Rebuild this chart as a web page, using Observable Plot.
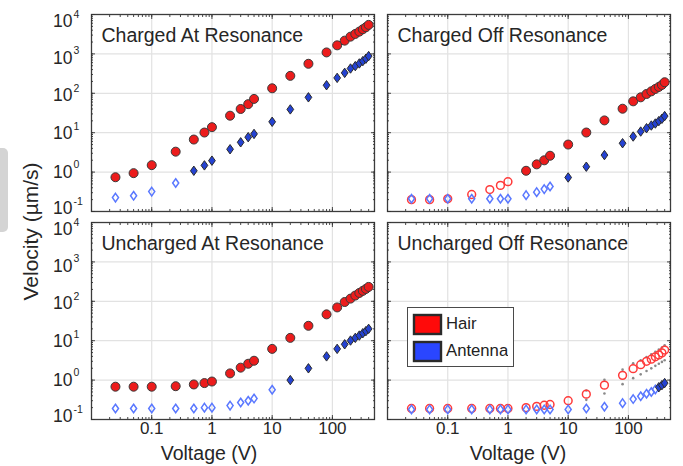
<!DOCTYPE html>
<html>
<head>
<meta charset="utf-8">
<script src="https://cdn.jsdelivr.net/npm/d3@7"></script>
<script src="https://cdn.jsdelivr.net/npm/@observablehq/plot@0.6"></script>
<style>
  body { margin: 0; background: #fff; font-family: "Liberation Sans", Arial, sans-serif; }
  #wrap { position: relative; width: 683px; height: 466px; overflow: hidden; }
  #wrap > svg { position: absolute; left: 0; top: 0; }
  #tab { position: absolute; left: 0; top: 148px; width: 8px; height: 84px; background: #d4d4d4; border-radius: 0 5px 5px 0; }
  #legend { position: absolute; left: 407px; top: 307px; width: 105px; height: 58px; border: 1.5px solid #4a4a4a; background: #fff; padding: 0; box-sizing: content-box; }
  #legend .lg-swatches { margin: 0 !important; padding: 6px 0 0 6px; }
  #legend .lg-swatch { padding-bottom: 7px !important; margin: 0 !important; color: #222; }
  #legend .lg-swatch svg { margin-right: 5px !important; }
  #legend .lg-swatch svg rect { stroke: #2a2a2a; stroke-width: 2.4px; }
</style>
</head>
<body>
<div id="wrap"><div id="tab"></div></div>
<script>
// ---- data ----
const voltage = [0.025, 0.05, 0.1, 0.25, 0.5, 0.75, 1, 2, 3, 4, 5, 10, 20, 40, 80, 120, 160, 200, 240, 280, 320, 360, 400];

const panelTitles    = ["Charged At Resonance", "Charged Off Resonance", "Uncharged At Resonance", "Uncharged Off Resonance"];
const panelCharge    = ["Charged", "Charged", "Uncharged", "Uncharged"];
const panelResonance = ["At Resonance", "Off Resonance", "At Resonance", "Off Resonance"];

const hairChargedAt      = [0.74, 0.94, 1.5, 3.3, 6.7, 10.1, 13.8, 27, 40, 53, 72, 134, 277, 561, 1090, 1650, 2170, 2740, 3210, 3680, 4220, 4750, 5450];
const antennaChargedAt   = [0.225, 0.25, 0.32, 0.53, 1.08, 1.48, 1.95, 3.8, 5.7, 7.7, 9.3, 18.9, 39, 79, 160, 246, 330, 426, 490, 572, 656, 753, 880];
const hairChargedOff     = [0.2, 0.2, 0.21, 0.27, 0.36, 0.46, 0.57, 1.08, 1.57, 1.99, 2.6, 5.0, 10.1, 20.5, 40.6, 62.5, 79, 96, 112, 129, 145, 163, 191];
const antennaChargedOff  = [0.21, 0.21, 0.21, 0.21, 0.21, 0.21, 0.21, 0.26, 0.31, 0.37, 0.43, 0.73, 1.37, 2.7, 5.4, 8.0, 10.7, 13, 15.2, 17.1, 19.7, 22.5, 26.4];
const hairUnchargedAt    = [0.68, 0.68, 0.68, 0.7, 0.775, 0.84, 0.92, 1.48, 2.07, 2.6, 3.1, 6.2, 11.8, 23.9, 46.6, 70, 96, 117, 140, 163, 184, 206, 232];
const antennaUnchargedAt = [0.19, 0.19, 0.19, 0.19, 0.19, 0.2, 0.2, 0.225, 0.27, 0.30, 0.34, 0.57, 1.0, 1.99, 4.0, 6.2, 8.1, 10.1, 11.8, 13.5, 15.5, 17.5, 20];
const hairUnchargedOff   = [0.19, 0.19, 0.19, 0.19, 0.19, 0.19, 0.19, 0.2, 0.215, 0.23, 0.24, 0.30, 0.44, 0.745, 1.32, 1.95, 2.46, 3.0, 3.4, 3.9, 4.35, 4.9, 5.8];
const antennaUnchargedOff= [0.18, 0.18, 0.18, 0.18, 0.18, 0.18, 0.18, 0.18, 0.18, 0.18, 0.18, 0.18, 0.19, 0.21, 0.26, 0.33, 0.39, 0.45, 0.50, 0.58, 0.66, 0.745, 0.84];

// voltage at which markers become filled (significant), per panel
const hairFilledFrom    = [0.025, 2, 0.025, Infinity];
const antennaFilledFrom = [0.5, 10, 20, 320];

// individual trials (small grey dots), Uncharged Off Resonance hair
const trialVoltage    = [20, 40, 80, 120, 160, 200, 240, 280, 320, 360, 400];
const trialUpperUOff  = [0.545, 1.02, 1.84, 2.66, 3.2, 3.86, 4.5, 5.2, 5.95, 6.7, 7.7];
const trialLowerUOff  = [0.315, 0.456, 0.79, 1.12, 1.4, 1.7, 1.99, 2.3, 2.6, 2.9, 3.2];

// axis ticks
const xTickValues = [0.1, 1, 10, 100];
const xTickLabels = ["0.1", "1", "10", "100"];
const yTickValues = [0.1, 1, 10, 100, 1000, 10000];
const yTickBase   = "10";
const yTickExps   = ["-1", "0", "1", "2", "3", "4"];
const yLabelNudge = [-4, -1, 0, 1, 3, 6];   // vertical nudge of each y tick label (px)

const legendLabels = ["Hair", "Antenna"];
const legendColors = ["#ff0a0a", "#2a46ff"];

// ---- build tables ----
const hairSeries = [hairChargedAt, hairChargedOff, hairUnchargedAt, hairUnchargedOff];
const antennaSeries = [antennaChargedAt, antennaChargedOff, antennaUnchargedAt, antennaUnchargedOff];
function toRows(series, filledFrom) {
  return series.flatMap((vals, p) => vals.map((velocity, i) => ({
    charge: panelCharge[p], resonance: panelResonance[p], v: voltage[i], velocity,
    filled: voltage[i] >= filledFrom[p]
  })));
}
const hair = toRows(hairSeries, hairFilledFrom);
const antenna = toRows(antennaSeries, antennaFilledFrom);
const trials = trialVoltage.flatMap((v, i) => [
  {charge: "Uncharged", resonance: "Off Resonance", v, velocity: trialUpperUOff[i]},
  {charge: "Uncharged", resonance: "Off Resonance", v, velocity: trialLowerUOff[i]}
]);
const titles = panelTitles.map((t, p) => ({title: t, charge: panelCharge[p], resonance: panelResonance[p]}));

const xDomain = [0.01, 500], yDomain = [0.1, 10000];
const xMinor = d3.scaleLog().domain(xDomain).ticks(40);
const yMinor = d3.scaleLog().domain(yDomain).ticks(40);

const diamond = {
  draw(ctx, size) {
    const r = Math.sqrt(size / Math.PI);
    const h = r * 1.15, w = r * 0.82;
    ctx.moveTo(0, -h); ctx.lineTo(w, 0); ctx.lineTo(0, h); ctx.lineTo(-w, 0); ctx.closePath();
  }
};

const red = "#ec1c1c", redOpen = "#ff3a3a";
const blue = "#2442d2", blueOpen = "#5a78ff";
const txt = "#262626";
const ch = {x: "v", y: "velocity", fx: "resonance", fy: "charge"};

function inward(anchor, ticks, size) {
  const o = {anchor, ticks, tickSize: -size, tickFormat: () => "", facetAnchor: null, label: null, stroke: "#333", strokeWidth: 0.9};
  return (anchor === "top" || anchor === "bottom") ? Plot.axisX(o) : Plot.axisY(o);
}

const yLabelMarks = yTickValues.flatMap((t, i) => [
  Plot.axisY({anchor: "left", ticks: [t], tickSize: 0, tickPadding: 19, fontSize: 17.5,
    tickFormat: () => yTickBase, label: null, fill: txt, dy: 1 + yLabelNudge[i]}),
  Plot.axisY({anchor: "left", ticks: [t], tickSize: 0, tickPadding: 18, fontSize: 10.5, textAnchor: "start",
    tickFormat: () => yTickExps[i], label: null, fill: txt, dy: -6 + yLabelNudge[i]})
]);

const chart = Plot.plot({
  width: 683, height: 466,
  marginLeft: 91, marginRight: 13, marginTop: 14, marginBottom: 47,
  style: {fontFamily: "'Liberation Sans', Arial, sans-serif", color: txt, background: "transparent"},
  x: {type: "log", domain: xDomain, label: null},
  y: {type: "log", domain: yDomain, label: null},
  fx: {domain: ["At Resonance", "Off Resonance"], paddingInner: 0.044, paddingOuter: 0, axis: null, label: null, round: false},
  fy: {domain: ["Charged", "Uncharged"], paddingInner: 0.053, paddingOuter: 0, axis: null, label: null, round: false},
  marks: [
    Plot.gridX(xTickValues, {stroke: "#e2e2e2", strokeOpacity: 1, strokeWidth: 1.2}),
    Plot.gridY(yTickValues, {stroke: "#e2e2e2", strokeOpacity: 1, strokeWidth: 1.2}),
    Plot.dot(trials, {...ch, r: 1.3, fill: "#8a8a8a", stroke: "none"}),
    Plot.dot(hair.filter(d => !d.filled), {...ch, r: 3.9, fill: "none", stroke: redOpen, strokeWidth: 1.5}),
    Plot.dot(hair.filter(d => d.filled), {...ch, r: 4.5, fill: red, stroke: "#3a3a3a", strokeWidth: 1}),
    Plot.dot(antenna.filter(d => !d.filled), {...ch, r: 3.7, symbol: diamond, fill: "none", stroke: blueOpen, strokeWidth: 1.5}),
    Plot.dot(antenna.filter(d => d.filled), {...ch, r: 4.1, symbol: diamond, fill: blue, stroke: "#2a2a2a", strokeWidth: 1}),
    Plot.frame({stroke: "#3c3c3c", strokeWidth: 1.3}),
    inward("bottom", xMinor, 2), inward("top", xMinor, 2),
    inward("left", yMinor, 2), inward("right", yMinor, 2),
    inward("bottom", xTickValues, 4), inward("top", xTickValues, 4),
    inward("left", yTickValues, 4), inward("right", yTickValues, 4),
    Plot.axisX({anchor: "bottom", ticks: xTickValues, tickSize: 0, tickPadding: 2, fontSize: 17,
      tickFormat: d => xTickLabels[xTickValues.indexOf(d)], label: null, fill: txt}),
    ...yLabelMarks,
    Plot.text(titles, {fx: "resonance", fy: "charge", text: "title", frameAnchor: "top-left", dx: 10, dy: 14,
      fontSize: 19.5, textAnchor: "start", lineAnchor: "top", fill: txt}),
    Plot.text([{charge: "Uncharged", resonance: "At Resonance"}], {fx: "resonance", fy: "charge", text: () => "Voltage (V)",
      frameAnchor: "bottom", lineAnchor: "middle", textAnchor: "middle", dx: -24, dy: 34, fontSize: 19.5, fill: txt}),
    Plot.text([{charge: "Uncharged", resonance: "Off Resonance"}], {fx: "resonance", fy: "charge", text: () => "Voltage (V)",
      frameAnchor: "bottom", lineAnchor: "middle", textAnchor: "middle", dx: -11, dy: 34, fontSize: 19.5, fill: txt}),
    Plot.text([{charge: "Charged", resonance: "At Resonance"}], {fx: "resonance", fy: "charge", text: () => "Velocity (µm/s)",
      frameAnchor: "bottom-left", lineAnchor: "middle", textAnchor: "middle", dx: -60, dy: 20, rotate: -90, fontSize: 21, fill: txt})
  ]
});
document.getElementById("wrap").appendChild(chart);

const legendDiv = document.createElement("div");
legendDiv.id = "legend";
legendDiv.appendChild(Plot.legend({
  color: {type: "ordinal", domain: legendLabels, range: legendColors},
  columns: 1, swatchWidth: 27, swatchHeight: 19, className: "lg",
  style: {fontSize: "16.7px", fontFamily: "'Liberation Sans', Arial, sans-serif", color: "#222"}
}));
document.getElementById("wrap").appendChild(legendDiv);
</script>
</body>
</html>
